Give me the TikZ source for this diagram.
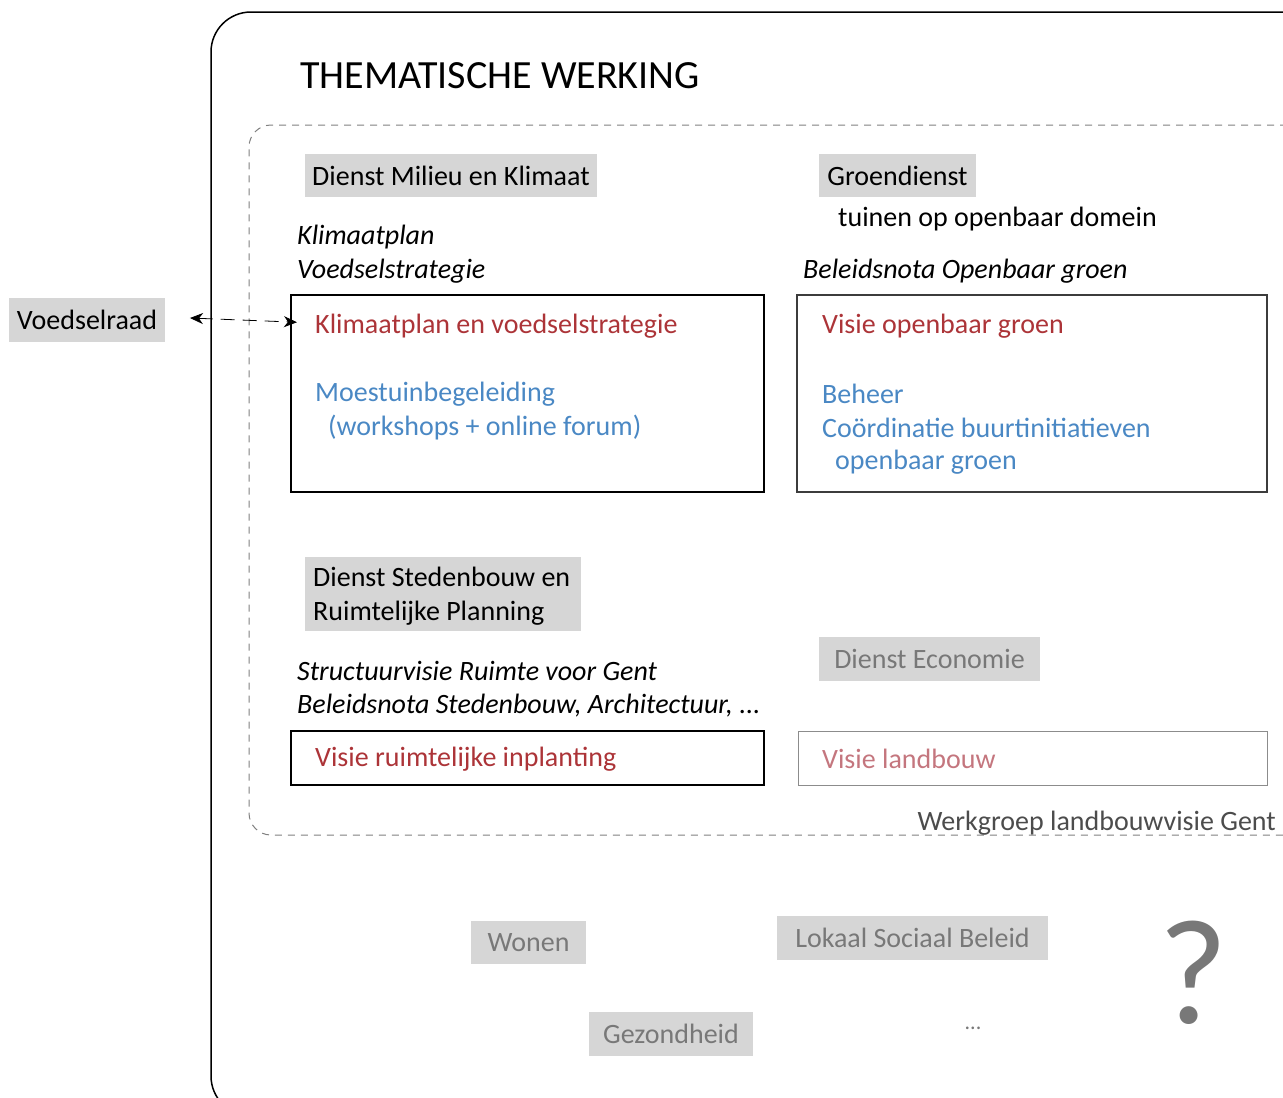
\documentclass[tikz,border=0pt]{standalone}
\usepackage{fontspec}
\setmainfont{Carlito}
\usetikzlibrary{arrows.meta}
\definecolor{boxgray}{RGB}{214,214,214}
\definecolor{txtred}{RGB}{172,52,56}
\definecolor{txtblue}{RGB}{74,136,196}
\definecolor{txtpink}{RGB}{196,118,126}
\definecolor{dimtxt}{RGB}{120,120,120}
\definecolor{framegray}{RGB}{60,60,60}
\tikzset{
  x=1pt, y=-1pt,
  body/.style={font=\fontsize{28}{34}\selectfont, inner sep=0pt, anchor=west},
  ital/.style={body, font=\fontsize{28}{34}\selectfont\itshape},
  grey/.style={fill=boxgray, font=\fontsize{28}{34}\selectfont, inner sep=0pt, text=black},
  dimgrey/.style={grey, text=dimtxt},
  content/.style={draw=black, line width=1.2pt},
  vtip/.tip={Stealth[length=13pt,width=11pt,inset=4pt]},
}
\begin{document}
\begin{tikzpicture}
\useasboundingbox (0,0) rectangle (1283,1098);
\clip (0,0) rectangle (1283,1098);
% outer frame
\draw[black, line width=1.5pt, rounded corners=40pt] (1300,12) -- (211,12) -- (211,1116) -- (1300,1116);
% title
\node[body, font=\fontsize{40}{44}\selectfont] (title) at (300,76) {THEMATISCHE WERKING};
% dashed working group frame
\draw[gray, line width=1pt, dash pattern=on 7pt off 6pt, rounded corners=22pt] (1300,125) -- (249,125) -- (249,835) -- (1300,835);
\node[body, anchor=east, text=black!70] (wg) at (1276,823) {Werkgroep landbouwvisie Gent};

% top-left
\node[grey, minimum width=292pt, minimum height=43pt] (milieu) at (451,175.5) {Dienst Milieu en Klimaat};
\node[ital] (kp) at (297,237) {Klimaatplan};
\node[ital] (vs) at (297,271) {Voedselstrategie};
\draw[content] (291,295) rectangle (764,492);
\node[inner sep=0pt, minimum width=473pt, minimum height=197pt] (box1) at (527.5,393.5) {};
\coordinate (box1in) at (291,322);
\node[body, text=txtred] (b1a) at (315,326) {Klimaatplan en voedselstrategie};
\node[body, text=txtblue] (b1b) at (315,394) {Moestuinbegeleiding};
\node[body, text=txtblue] (b1c) at (328,428) {(workshops + online forum)};

% top-right
\node[grey, minimum width=157pt, minimum height=43pt] (groen) at (897.5,175.5) {Groendienst};
\node[body] (tuinen) at (838,219) {tuinen op openbaar domein};
\node[ital] (bog) at (803,271) {Beleidsnota Openbaar groen};
\draw[draw=framegray, line width=1.6pt] (797,295) rectangle (1267,492);
\node[inner sep=0pt, minimum width=470pt, minimum height=197pt] (box2) at (1032,393.5) {};
\node[body, text=txtred] (b2a) at (822,326) {Visie openbaar groen};
\node[body, text=txtblue] (b2b) at (822,394) {Beheer};
\node[body, text=txtblue] (b2c) at (822,428) {Coördinatie buurtinitiatieven};
\node[body, text=txtblue] (b2d) at (835,462) {openbaar groen};

% Voedselraad + arrow
\node[grey, minimum width=156pt, minimum height=44pt] (vr) at (87,320) {Voedselraad};
\coordinate (vrout) at (165,317);
\draw[black, line width=0.8pt, dash pattern=on 14pt off 8pt, {vtip}-{vtip}, shorten <=25pt, shorten >=-6pt] (vrout) -- (box1in);

% bottom-left
\node[grey, minimum width=276pt, minimum height=74pt] (steden) at (443,594) {};
\node[body, align=left] (stedentxt) at (313,596) {Dienst Stedenbouw en\\Ruimtelijke Planning};
\node[ital] (sv) at (297,671) {Structuurvisie Ruimte voor Gent};
\node[ital] (bs) at (297,706) {Beleidsnota Stedenbouw, Architectuur, ...};
\draw[content] (291,731) rectangle (764,785);
\node[body, text=txtred] (b3) at (315,759) {Visie ruimtelijke inplanting};

% bottom-right
\node[dimgrey, minimum width=221pt, minimum height=44pt] (eco) at (929.5,659) {Dienst Economie};
\draw[draw=black!45, line width=1pt] (798,731) rectangle (1267,785);
\node[body, text=txtpink] (b4) at (822,759) {Visie landbouw};

% other services
\node[dimgrey, minimum width=115pt, minimum height=43pt] (wonen) at (528.5,942.5) {Wonen};
\node[dimgrey, minimum width=271pt, minimum height=44pt] (lsb) at (912.5,938) {Lokaal Sociaal Beleid};
\node[dimgrey, minimum width=164pt, minimum height=44pt] (gez) at (671,1034) {Gezondheid};
\node[font=\fontsize{22}{24}\selectfont, text=dimtxt, inner sep=0pt] (dots) at (973,1028) {...};
\node[font=\fontsize{150}{150}\selectfont, text=dimtxt, inner sep=0pt] (q) at (1193,973) {?};
\end{tikzpicture}
\end{document}
